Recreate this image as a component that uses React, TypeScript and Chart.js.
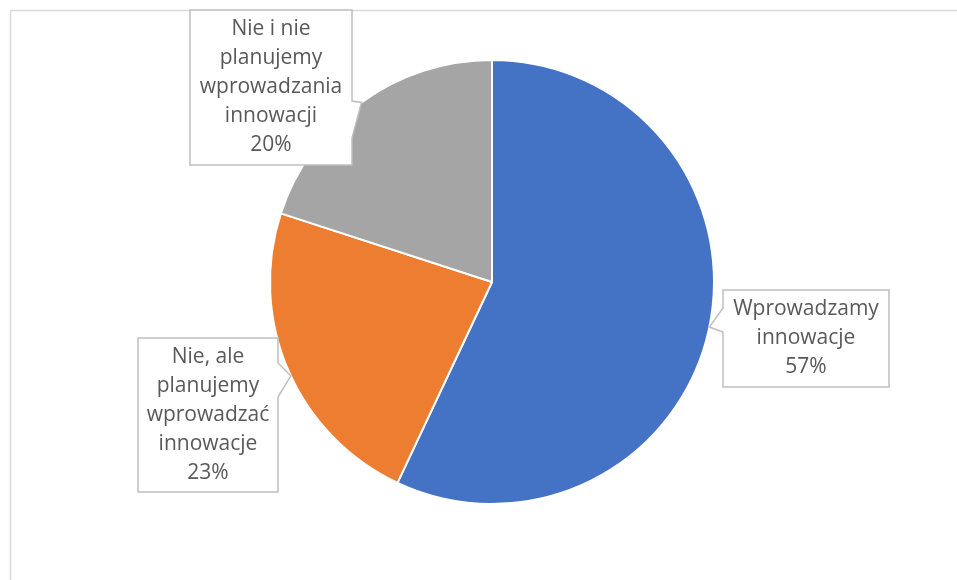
import React, { useEffect, useRef } from "react";
import { Chart, registerables } from "chart.js";
Chart.register(...registerables);

const categories = [
  "Wprowadzamy innowacje",
  "Nie, ale planujemy wprowadzać innowacje",
  "Nie i nie planujemy wprowadzania innowacji",
];
const values = [57, 23, 20];
const colors = ["#4472C4", "#ED7D31", "#A5A5A5"];

// Callout label layout (per slice): box rect, pointer side, pointer base span, tip angle on the arc
const calloutLayout = [
  { x: 723, y: 290, w: 166, h: 97, side: "left", b0: 308, b1: 332, tipDeg: 11.7, maxW: 155 },
  { x: 138, y: 338, w: 140, h: 154, side: "right", b0: 363, b1: 397, tipDeg: 155, maxW: 130 },
  { x: 190, y: 10, w: 162, h: 155, side: "right", b0: 101, b1: 138, tipDeg: 234, maxW: 155 },
];

const FONT = "21px 'Open Sans'";
const TEXT_COLOR = "#595959";
const LINE_H = 29;

function wrap(ctx: CanvasRenderingContext2D, text: string, maxW: number): string[] {
  const words = text.split(" ");
  const lines: string[] = [];
  let cur = "";
  for (const w of words) {
    const t = cur ? cur + " " + w : w;
    if (cur && ctx.measureText(t).width > maxW) {
      lines.push(cur);
      cur = w;
    } else cur = t;
  }
  if (cur) lines.push(cur);
  return lines;
}

const calloutPlugin = {
  id: "callouts",
  beforeDraw(chart: any) {
    const ctx = chart.ctx;
    ctx.save();
    ctx.strokeStyle = "#D9D9D9";
    ctx.lineWidth = 1.5;
    ctx.strokeRect(10.5, 10.5, 3000, 3000);
    ctx.restore();
  },
  afterDraw(chart: any) {
    const ctx: CanvasRenderingContext2D = chart.ctx;
    const meta = chart.getDatasetMeta(0);
    ctx.save();
    meta.data.forEach((arc: any, i: number) => {
      const L = calloutLayout[i];
      const a = (L.tipDeg * Math.PI) / 180;
      const tx = arc.x + arc.outerRadius * Math.cos(a);
      const ty = arc.y + arc.outerRadius * Math.sin(a);
      ctx.beginPath();
      if (L.side === "left") {
        ctx.moveTo(L.x, L.y);
        ctx.lineTo(L.x + L.w, L.y);
        ctx.lineTo(L.x + L.w, L.y + L.h);
        ctx.lineTo(L.x, L.y + L.h);
        ctx.lineTo(L.x, L.b1);
        ctx.lineTo(tx, ty);
        ctx.lineTo(L.x, L.b0);
        ctx.closePath();
      } else {
        ctx.moveTo(L.x, L.y);
        ctx.lineTo(L.x + L.w, L.y);
        ctx.lineTo(L.x + L.w, L.b0);
        ctx.lineTo(tx, ty);
        ctx.lineTo(L.x + L.w, L.b1);
        ctx.lineTo(L.x + L.w, L.y + L.h);
        ctx.lineTo(L.x, L.y + L.h);
        ctx.closePath();
      }
      ctx.fillStyle = "#FFFFFF";
      ctx.fill();
      ctx.strokeStyle = "#BFBFBF";
      ctx.lineWidth = 1.5;
      ctx.stroke();

      ctx.font = FONT;
      ctx.fillStyle = TEXT_COLOR;
      ctx.textAlign = "center";
      ctx.textBaseline = "middle";
      const lines = wrap(ctx, chart.data.labels[i], L.maxW);
      lines.push(chart.data.datasets[0].data[i] + "%");
      const cx = L.x + L.w / 2;
      const cy = L.y + L.h / 2;
      const start = cy - ((lines.length - 1) * LINE_H) / 2;
      lines.forEach((ln, k) => ctx.fillText(ln, cx, start + k * LINE_H));
    });
    ctx.restore();
  },
};

export default function App() {
  const ref = useRef<HTMLCanvasElement>(null);
  useEffect(() => {
    document.body.style.margin = "0";
    const chart = new Chart(ref.current!, {
      type: "pie",
      data: {
        labels: categories,
        datasets: [
          {
            data: values,
            backgroundColor: colors,
            borderColor: "#FFFFFF",
            borderWidth: 2,
          },
        ],
      },
      options: {
        animation: false,
        responsive: false,
        layout: { padding: { left: 269, right: 242, top: 59, bottom: 75 } },
        plugins: { legend: { display: false }, tooltip: { enabled: false } },
      },
      plugins: [calloutPlugin],
    });
    return () => chart.destroy();
  }, []);
  return <canvas ref={ref} width={957} height={580} style={{ display: "block" }} />;
}
